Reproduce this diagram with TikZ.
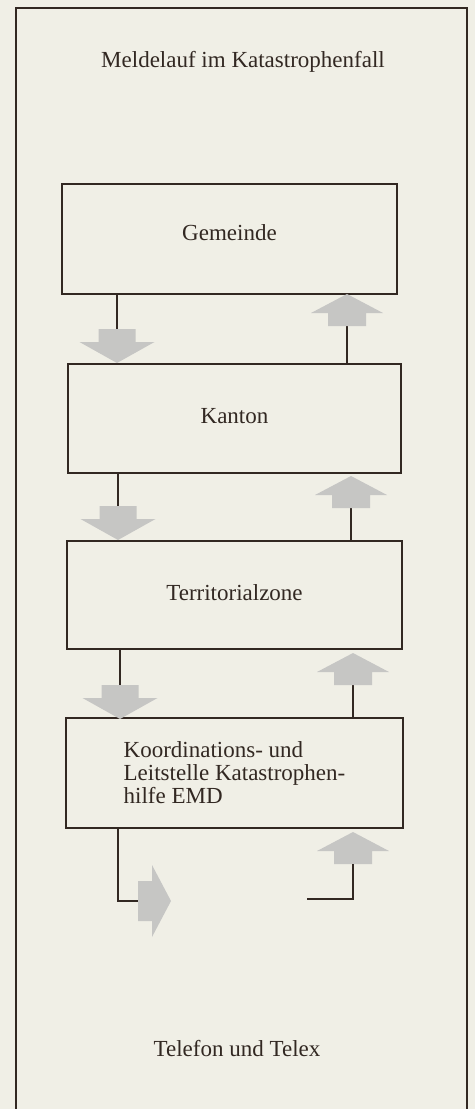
\documentclass[tikz,border=0pt]{standalone}
\usepackage{fontspec}
\setmainfont{Liberation Serif}
\usepackage{tikz}
\usepackage{xcolor}
\definecolor{mlpaper}{RGB}{240,239,230}
\definecolor{mlink}{RGB}{50,40,34}
\definecolor{mlgrey}{RGB}{198,198,196}
\tikzstyle{stelle} = [rectangle, draw=mlink, line width=2pt, inner sep=0pt, text=mlink, font=\fontsize{23}{23}\selectfont]
\tikzstyle{einzeilig} = [stelle, text height=16pt, text depth=6pt]
\tikzstyle{link} = [draw=mlink, line width=2pt]
\tikzstyle{blockpfeil} = [fill=mlgrey]
\tikzstyle{schrift} = [anchor=base, text=mlink, font=\fontsize{23}{23}\selectfont]

\begin{document}
\begin{tikzpicture}[x=1pt, y=-1pt]
\fill[mlpaper] (0,0) rectangle (475,1109);
\useasboundingbox (0,0) rectangle (475,1109);
% Rahmen
\draw[mlink, line width=1.5pt] (16,1109) -- (16,8) -- (467,8) -- (467,1109);

\node[schrift] (titel) at (243,67) {Meldelauf im Katastrophenfall};

% Stellen
\node[einzeilig, minimum width=335pt, minimum height=110pt, text depth=14pt] (gemeinde) at (229.5,239) {Gemeinde};
\node[einzeilig, minimum width=333pt, minimum height=109pt] (kanton) at (234.5,418.5) {Kanton};
\node[einzeilig, minimum width=335pt, minimum height=108pt] (zone) at (234.5,595) {Territorialzone};
\node[stelle, minimum width=337pt, minimum height=110pt, align=left] (kls) at (234.5,773) {Koordinations- und\\Leitstelle Katastrophen-\\hilfe EMD};

% Meldungen nach unten
\foreach \i/\x/\y in {1/117/329, 2/118/506, 3/120/685}
  \coordinate (ab\i) at (\x,\y);
\draw[link] (gemeinde.south -| ab1) -- (ab1);
\draw[link] (kanton.south -| ab2) -- (ab2);
\draw[link] (zone.south -| ab3) -- (ab3);
\foreach \i in {1,2,3}
  \fill[blockpfeil] (ab\i) ++(-18.5,0) -- ++(37,0) -- ++(0,13) -- ++(19,0) -- ++(-37.5,21) -- ++(-37.5,-21) -- ++(19,0) -- cycle;

% Rueckmeldungen nach oben
\foreach \i/\x/\y in {1/347/326, 2/351/508, 3/353/685, 4/353/864}
  \coordinate (auf\i) at (\x,\y);
\draw[link] (kanton.north -| auf1) -- (auf1);
\draw[link] (zone.north -| auf2) -- (auf2);
\draw[link] (kls.north -| auf3) -- (auf3);
\foreach \i in {1,2,3,4}
  \fill[blockpfeil] (auf\i) ++(-19,0) -- ++(38,0) -- ++(0,-13) -- ++(17,0) -- ++(-36,-19) -- ++(-36,19) -- ++(17,0) -- cycle;

% Telefon und Telex
\coordinate (ecke) at (118,901);
\coordinate (aus) at (138,901);
\coordinate (ein) at (307,899);
\draw[link] (kls.south -| ecke) -- (ecke) -- (aus);
\fill[blockpfeil] (aus) ++(0,-20) -- ++(14,0) -- ++(0,-16) -- ++(19,36) -- ++(-19,36) -- ++(0,-16) -- ++(-14,0) -- cycle;
\draw[link] (ein) -| (auf4);

\node[schrift] (telefon) at (237,1056) {Telefon und Telex};
\end{tikzpicture}
\end{document}
